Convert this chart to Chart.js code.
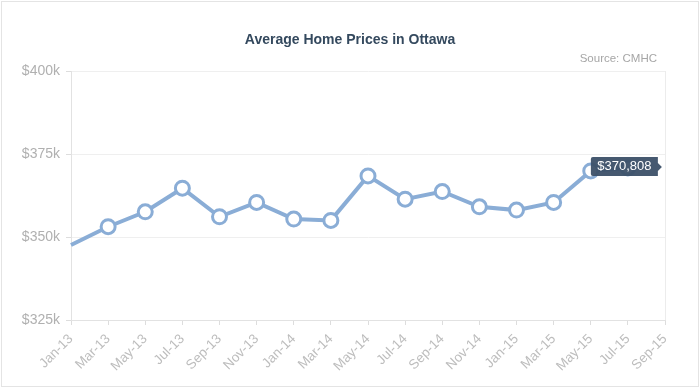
<!DOCTYPE html>
<html>
<head>
<meta charset="utf-8">
<script src="https://cdn.jsdelivr.net/npm/chart.js@4"></script>
<style>
  html, body { margin: 0; padding: 0; background: #fff; }
  #wrap { width: 700px; height: 388px; position: relative; box-sizing: border-box; }
  canvas { display: block; }
</style>
</head>
<body>
<div id="wrap"><canvas id="c" width="700" height="388"></canvas></div>
<script>
const titleText = 'Average Home Prices in Ottawa';
const sourceText = 'Source: CMHC';
const months = ['Jan-13','Mar-13','May-13','Jul-13','Sep-13','Nov-13','Jan-14','Mar-14','May-14','Jul-14','Sep-14','Nov-14','Jan-15','Mar-15','May-15','Jul-15','Sep-15'];
const prices = [347600, 353100, 357600, 364700, 356100, 360400, 355400, 355000, 368400, 361400, 363700, 359100, 358100, 360400, 369900, 370808, null];
const yTicks = [325000, 350000, 375000, 400000];
const highlightIndex = 15;

const lineColor = '#8aadd6';

const framePlugin = {
  id: 'frame',
  beforeDraw(chart) {
    const ctx = chart.ctx;
    ctx.save();
    ctx.fillStyle = '#fff';
    ctx.fillRect(0, 0, chart.width, chart.height);
    ctx.strokeStyle = '#e4e4e4';
    ctx.lineWidth = 1;
    ctx.strokeRect(1.5, 1.5, chart.width - 3, chart.height - 3);
    ctx.restore();
  },
  afterDraw(chart) {
    const ctx = chart.ctx;
    ctx.save();
    ctx.textBaseline = 'middle';
    ctx.fillStyle = '#34495e';
    ctx.font = 'bold 14px "Liberation Sans", Arial, sans-serif';
    ctx.textAlign = 'center';
    ctx.fillText(titleText, 350, 40);
    ctx.fillStyle = '#a6a6a6';
    ctx.font = '11.5px "Liberation Sans", Arial, sans-serif';
    ctx.textAlign = 'right';
    ctx.fillText(sourceText, 657, 59);

    // tooltip-like label at highlighted point
    const meta = chart.getDatasetMeta(0);
    const pt = meta.data[highlightIndex];
    if (pt) {
      const px = pt.x, py = pt.y;
      const label = '$' + prices[highlightIndex].toLocaleString('en-US');
      const x0 = px - 37, x1 = px + 30, y0 = py - 11, y1 = py + 8;
      ctx.fillStyle = 'rgba(60,80,104,0.95)';
      ctx.beginPath();
      ctx.moveTo(x0 + 2, y0);
      ctx.lineTo(x1, y0);
      ctx.lineTo(x1, py - 5);
      ctx.lineTo(x1 + 4, py - 1);
      ctx.lineTo(x1, py + 3);
      ctx.lineTo(x1, y1);
      ctx.lineTo(x0 + 2, y1);
      ctx.quadraticCurveTo(x0, y1, x0, y1 - 2);
      ctx.lineTo(x0, y0 + 2);
      ctx.quadraticCurveTo(x0, y0, x0 + 2, y0);
      ctx.closePath();
      ctx.fill();
      ctx.fillStyle = '#fff';
      ctx.font = '13px "Liberation Sans", Arial, sans-serif';
      ctx.textAlign = 'center';
      ctx.fillText(label, (x0 + x1) / 2, (y0 + y1) / 2 + 0.5);
    }
    ctx.restore();
  }
};

new Chart(document.getElementById('c'), {
  type: 'line',
  data: {
    labels: months,
    datasets: [{
      data: prices,
      borderColor: lineColor,
      borderWidth: 4,
      backgroundColor: '#fff',
      pointBackgroundColor: '#fff',
      pointBorderColor: lineColor,
      pointBorderWidth: 3,
      pointRadius: prices.map((v, i) => i === 0 ? 0 : 7),
      pointHoverRadius: 7,
      tension: 0,
      clip: false,
      spanGaps: false
    }]
  },
  options: {
    responsive: false,
    animation: false,
    events: [],
    layout: { padding: { top: 71, right: 35, left: 0, bottom: 0 } },
    plugins: {
      legend: { display: false },
      title: { display: false },
      tooltip: { enabled: false }
    },
    scales: {
      x: {
        offset: false,
        grid: {
          display: true,
          drawOnChartArea: true,
          color: (c) => (c.index === months.length - 1) ? '#ececec' : 'rgba(0,0,0,0)',
          tickColor: '#dddddd',
          tickLength: 5
        },
        border: { display: true, color: '#e2e2e2' },
        ticks: {
          autoSkip: false,
          maxRotation: 45,
          minRotation: 45,
          padding: 6,
          color: '#bdbdbd',
          font: { size: 13.5, family: '"Liberation Sans", Arial, sans-serif' }
        },
        afterFit(s) { s.height = 68; }
      },
      y: {
        min: 325000,
        max: 400000,
        afterBuildTicks(s) { s.ticks = yTicks.map(v => ({ value: v })); },
        grid: {
          color: '#efefef',
          tickColor: '#dddddd',
          tickLength: 5
        },
        border: { display: true, color: '#e2e2e2' },
        ticks: {
          padding: 6,
          color: '#b0b0b0',
          font: { size: 14, family: '"Liberation Sans", Arial, sans-serif' },
          callback: (v) => '$' + (v / 1000) + 'k'
        },
        afterFit(s) { s.width = 71; }
      }
    }
  },
  plugins: [framePlugin]
});
</script>
</body>
</html>
